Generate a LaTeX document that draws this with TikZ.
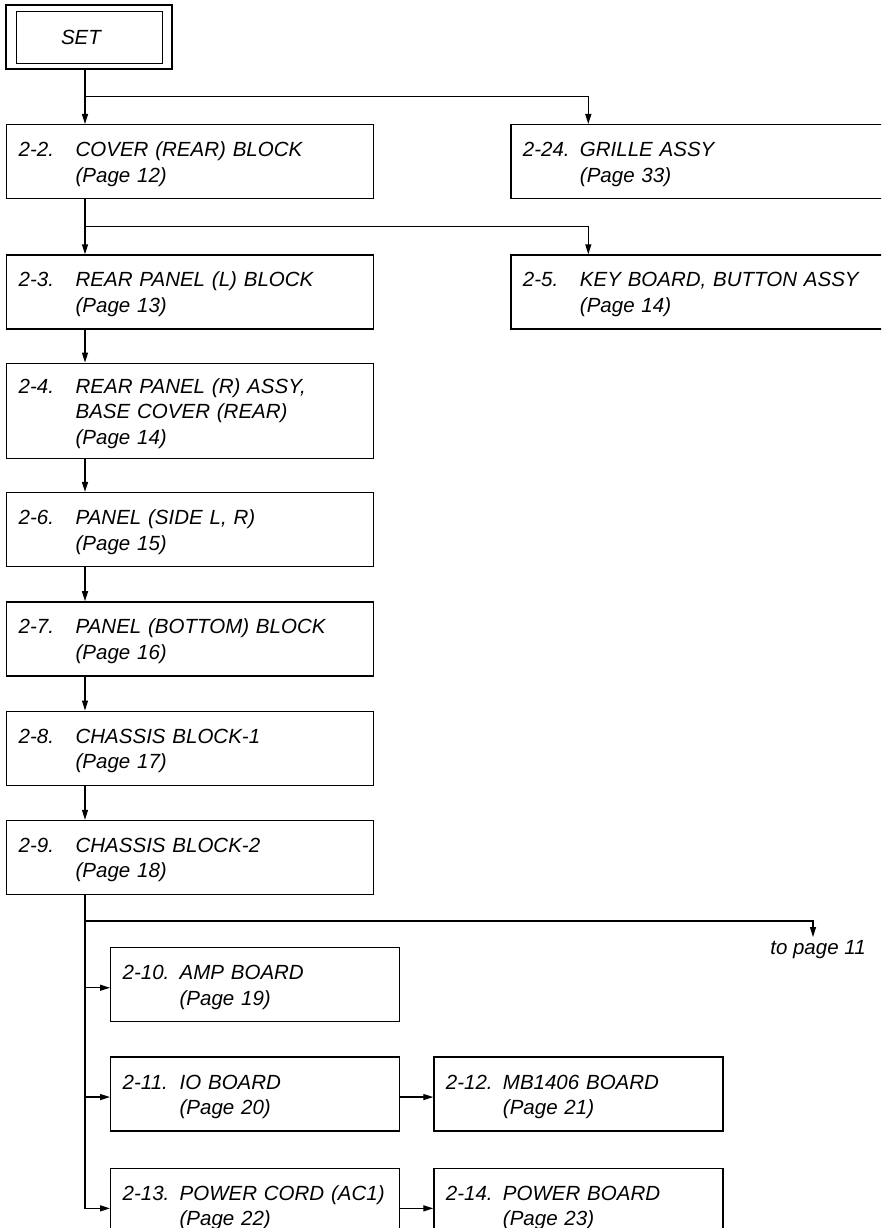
\documentclass[tikz,border=0pt]{standalone}
\usepackage{fontspec}
\setmainfont{Liberation Sans}
\usetikzlibrary{positioning, arrows.meta, calc}

\newcommand{\rs}{\rule[-5pt]{0pt}{25.5pt}}
\newcommand{\itm}[2]{\rs\makebox[57pt][l]{#1}#2}
\newcommand{\onpage}[1]{\rs\hspace*{57pt}(Page #1)}

\begin{document}
\begin{tikzpicture}[
    x=1pt, y=-1pt,
    node distance=34pt and 33pt,
    every node/.style={font=\itshape\fontsize{20.5}{25.5}\selectfont},
    blk/.style={draw, line width=1.3pt, rectangle, align=left, inner xsep=12pt,
                inner ysep=0pt, minimum height=74pt},
    wide/.style={blk, text width=343pt},
    side/.style={blk, text width=420pt},
    brd/.style={blk, text width=265pt},
    arr/.style={-{Triangle[length=10pt, width=6pt]}, line width=1.3pt},
]
    \useasboundingbox (0,0) rectangle (881,1228);
    \clip (0,0) rectangle (881,1228);

    \node[draw, line width=1.3pt, minimum width=166pt, minimum height=64pt, inner sep=0pt] (set) at (89,37) {SET\hspace*{16pt}};
    \draw[line width=1.3pt] ([xshift=11pt, yshift=-7pt]set.north west) rectangle ([xshift=-10pt, yshift=6pt]set.south east);

    % main column
    \node[wide, anchor=north west] (cov) at (6,124) {\itm{2-2.}{COVER (REAR) BLOCK}\\\onpage{12}};
    \node[wide, below=55pt of cov] (rpl) {\itm{2-3.}{REAR PANEL (L) BLOCK}\\\onpage{13}};
    \node[wide, below=33pt of rpl, minimum height=95pt] (rpr) {\itm{2-4.}{REAR PANEL (R) ASSY,}\\\rs\hspace*{57pt}BASE COVER (REAR)\\\onpage{14}};
    \node[wide, below=33pt of rpr] (psd) {\itm{2-6.}{PANEL (SIDE L, R)}\\\onpage{15}};
    \node[wide, below=of psd] (pbt) {\itm{2-7.}{PANEL (BOTTOM) BLOCK}\\\onpage{16}};
    \node[wide, below=of pbt] (cb1) {\itm{2-8.}{CHASSIS BLOCK-1}\\\onpage{17}};
    \node[wide, below=of cb1] (cb2) {\itm{2-9.}{CHASSIS BLOCK-2}\\\onpage{18}};

    % right column
    \node[side, right=136pt of cov.north east, anchor=north west] (grl) {\itm{2-24.}{GRILLE ASSY}\\\onpage{33}};
    \node[side, right=136pt of rpl.north east, anchor=north west] (key) {\itm{2-5.}{KEY BOARD, BUTTON ASSY}\\\onpage{14}};

    % boards
    \node[brd, below right=52pt and 104pt of cb2.south west] (amp) {\itm{2-10.}{AMP BOARD}\\\onpage{19}};
    \node[brd, below=of amp] (iob) {\itm{2-11.}{IO BOARD}\\\onpage{20}};
    \node[brd, below=36pt of iob] (pwc) {\itm{2-13.}{POWER CORD (AC1)}\\\onpage{22}};
    \node[brd, right=of iob] (mbb) {\itm{2-12.}{MB1406 BOARD}\\\onpage{21}};
    \node[brd, right=of pwc] (pwb) {\itm{2-14.}{POWER BOARD}\\\onpage{23}};
    \node[anchor=north] (pg11) at (818,937) {to page 11};

    \coordinate (tk) at ([xshift=79pt]cov.north west);

    \draw[arr] (set.south -| tk) -- (cov.north -| tk);
    \draw[arr] ($(set.south -| tk)!.5!(cov.north -| tk)$) -| ([xshift=78pt]grl.north west);
    \draw[arr] (cov.south -| tk) -- (rpl.north -| tk);
    \draw[arr] ($(cov.south -| tk)!.5!(rpl.north -| tk)$) -| ([xshift=78pt]key.north west);
    \foreach \a/\b in {rpl/rpr, rpr/psd, psd/pbt, pbt/cb1, cb1/cb2}
        \draw[arr] (\a.south -| tk) -- (\b.north -| tk);

    \draw[arr] (cb2.south -| tk) |- ([yshift=-3pt]pwc.west);
    \draw[arr] ($(cb2.south -| tk)!.5!(amp.north -| tk)$) -| ([xshift=-5pt]pg11.north);
    \foreach \b in {amp, iob}
        \draw[arr] ([yshift=-3pt]tk |- \b.west) -- ([yshift=-3pt]\b.west);
    \draw[arr] ([yshift=-3pt]iob.east) -- ([yshift=-3pt]mbb.west);
    \draw[arr] ([yshift=-3pt]pwc.east) -- ([yshift=-3pt]pwb.west);
\end{tikzpicture}
\end{document}
